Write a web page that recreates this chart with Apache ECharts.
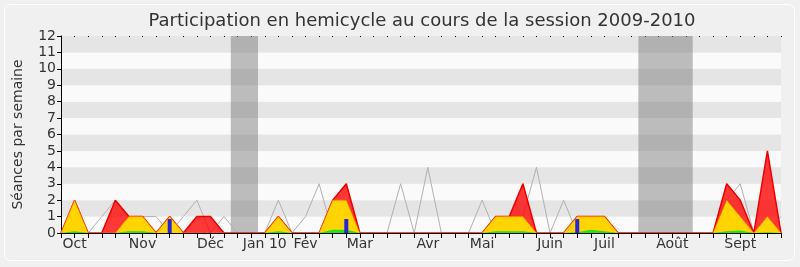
<!DOCTYPE html>
<html>
<head>
<meta charset="utf-8">
<script src="https://cdn.jsdelivr.net/npm/echarts@6/dist/echarts.min.js"></script>
<style>
  html, body { margin: 0; padding: 0; background: #f0f0f0; }
  #chart { width: 800px; height: 267px; }
</style>
</head>
<body>
<div id="chart"></div>
<script>
// Weekly attendance, session 2009-2010 (week 0 = end of September 2009)
const monthWeeks = [1, 6, 11, 15, 18, 22, 27, 31, 36, 40, 45, 50];
const monthNames = ['Oct', 'Nov', 'Déc', 'Jan 10', 'Fév', 'Mar', 'Avr', 'Mai', 'Juin', 'Juil', 'Août', 'Sept'];

// Parliamentary recess periods (in week units)
const recessWeeks = [[12.5, 14.5], [42.5, 46.5]];

// Median attendance of all deputies
const mediane = [0, 0, 0, 1, 2, 1, 1, 1, 0, 1, 2, 0, 1, 0, 0, 0, 2, 0, 1, 3,
                 0, 0, 0, 0, 0, 3, 0, 4, 0, 0, 0, 2, 0, 1, 1, 4, 0, 2, 0, 0,
                 0, 0, 0, 0, 0, 0, 0, 0, 0, 2, 3, 0, 0, 1];
// Sittings attended
const presences = [0, 2, 0, 0, 2, 1, 1, 0, 1, 0, 1, 1, 0, 0, 0, 0, 1, 0, 0, 0,
                   2, 3, 0, 0, 0, 0, 0, 0, 0, 0, 0, 0, 1, 1, 3, 0, 0, 0, 1, 1,
                   1, 0, 0, 0, 0, 0, 0, 0, 0, 3, 2, 0, 5, 0];
// Sittings with a recorded participation
const participations = [0, 2, 0, 0, 0, 1, 1, 0, 1, 0, 0, 0, 0, 0, 0, 0, 1, 0, 0, 0,
                        2, 2, 0, 0, 0, 0, 0, 0, 0, 0, 0, 0, 1, 1, 1, 0, 0, 0, 1, 1,
                        1, 0, 0, 0, 0, 0, 0, 0, 0, 2, 1, 0, 1, 0];
// Speeches
const interventions = [0, 0.1, 0, 0, 0, 0.1, 0.1, 0, 0, 0, 0, 0, 0, 0, 0, 0, 0.1, 0, 0, 0,
                       0.2, 0.2, 0, 0, 0, 0, 0, 0, 0, 0, 0, 0, 0.1, 0.1, 0.1, 0, 0, 0, 0.05, 0.2,
                       0.1, 0, 0, 0, 0, 0, 0, 0, 0, 0.1, 0.15, 0, 0.05, 0];
// Oral questions
const questionWeeks = [8, 21, 38];
const questionValues = [0.85, 0.85, 0.85];

const yTicks = ['0','1','2','3','4','5','6','7','8','9','10','11','12'];

const toPairs = arr => arr.map((v, i) => [i, v]);
const monthLabel = {};
monthWeeks.forEach((w, i) => { monthLabel[w] = monthNames[i]; });

const FONT = 'DejaVu Sans';
const chart = echarts.init(document.getElementById('chart'), null, { renderer: 'canvas' });

chart.setOption({
  backgroundColor: '#f0f0f0',
  animation: false,
  graphic: [{
    type: 'rect',
    shape: { x: 4.5, y: 4.5, width: 790, height: 256, r: 6 },
    style: { fill: 'none', stroke: '#ffffff', lineWidth: 1 },
    silent: true,
    z: -1
  }],
  title: {
    text: 'Participation en hemicycle au cours de la session 2009-2010',
    left: 417,
    top: 7,
    textAlign: 'center',
    textStyle: { fontFamily: FONT, fontSize: 18, fontWeight: 'normal', color: '#333' }
  },
  grid: { left: 61, right: 19, top: 36, bottom: 34, containLabel: false },
  xAxis: [{
    type: 'value',
    min: 0, max: 53, interval: 1,
    z: 10,
    axisLine: { show: true, lineStyle: { color: '#000', width: 1 } },
    axisTick: { show: true, length: 5, lineStyle: { color: '#000' } },
    splitLine: { show: false },
    axisLabel: {
      show: true, margin: 4,
      fontFamily: FONT, fontSize: 14, color: '#333',
      formatter: v => monthLabel[v] || ''
    }
  }, {
    type: 'value',
    position: 'top',
    min: 0, max: 53, interval: 1,
    axisLine: { show: false },
    axisTick: { show: true, length: 1, inside: true, lineStyle: { color: '#000' } },
    axisLabel: { show: false },
    splitLine: { show: false }
  }],
  yAxis: {
    type: 'value',
    min: 0, max: 12, interval: 1,
    name: 'Séances par semaine',
    nameLocation: 'middle',
    nameGap: 36,
    nameTextStyle: { fontFamily: FONT, fontSize: 14, color: '#333' },
    axisLine: { show: true, lineStyle: { color: '#000' } },
    axisTick: { show: true, length: 4, lineStyle: { color: '#000' } },
    axisLabel: {
      fontFamily: FONT, fontSize: 14, color: '#333', margin: 5,
      formatter: v => yTicks[v]
    },
    splitLine: { show: false },
    splitArea: { show: true, areaStyle: { color: ['#fafafa', '#e5e5e5'] } }
  },
  series: [{
    name: 'Médiane',
    type: 'line',
    data: toPairs(mediane),
    symbol: 'none',
    lineStyle: { color: '#b0b0b0', width: 1 },
    z: 2,
    markArea: {
      silent: true,
      itemStyle: { color: 'rgba(125,125,125,0.5)' },
      data: recessWeeks.map(r => [{ xAxis: r[0] }, { xAxis: r[1] }])
    }
  }, {
    name: 'Présences',
    type: 'line',
    data: toPairs(presences),
    symbol: 'none',
    lineStyle: { color: '#ee0000', width: 1.5 },
    areaStyle: { color: 'rgba(255,0,0,0.78)', opacity: 1 },
    z: 3
  }, {
    name: 'Participations',
    type: 'line',
    data: toPairs(participations),
    symbol: 'none',
    lineStyle: { color: 'rgba(255,130,0,0.55)', width: 1 },
    areaStyle: { color: '#ffd400', opacity: 1 },
    z: 4
  }, {
    name: 'Interventions',
    type: 'line',
    data: toPairs(interventions),
    symbol: 'none',
    lineStyle: { width: 0 },
    areaStyle: { color: '#22e022', opacity: 1 },
    z: 5
  }, {
    name: 'Questions orales',
    type: 'bar',
    data: questionWeeks.map((w, i) => [w, questionValues[i]]),
    barWidth: 4,
    itemStyle: { color: '#2626d6' },
    z: 6
  }]
});
</script>
</body>
</html>
